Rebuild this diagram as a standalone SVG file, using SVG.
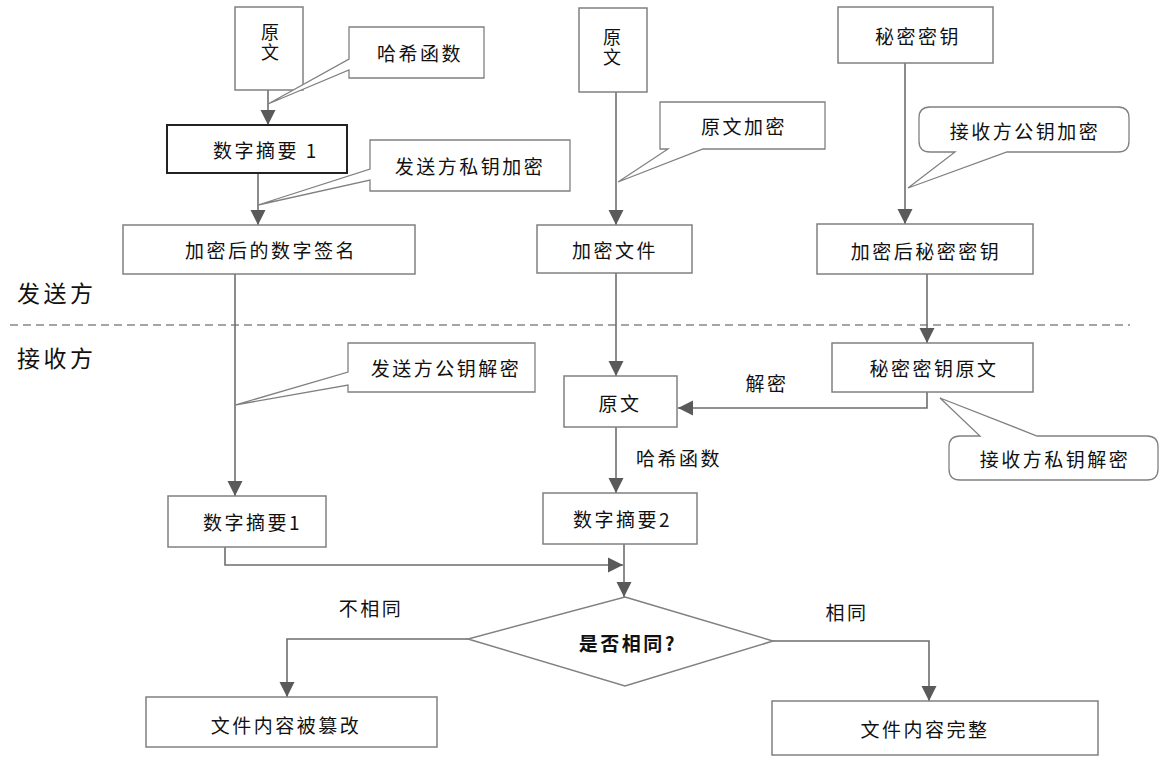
<svg xmlns="http://www.w3.org/2000/svg" width="1166" height="763" viewBox="0 0 1166 763">
<style>
  .box{fill:#fff;stroke:#808080;stroke-width:1.5}
  .bold{fill:#fff;stroke:#222;stroke-width:2}
  .call{fill:#fff;stroke:#808080;stroke-width:1.3}
  .t{font-family:"Noto Sans CJK SC","Noto Sans",sans-serif;font-size:19px;fill:#111;letter-spacing:2.5px;dominant-baseline:central}
  .m{text-anchor:middle}
  .v{font-size:18px;letter-spacing:2px;writing-mode:vertical-rl}
  .side{font-size:23px;letter-spacing:3.5px}
  .q{font-weight:bold}
  .c{fill:none;stroke:#6e6e6e;stroke-width:1.6}
  .dash{fill:none;stroke:#888;stroke-width:1.3;stroke-dasharray:8 5}
</style>
<defs>
  <marker id="ah" viewBox="0 -8 16 16" refX="15" refY="0" markerWidth="16" markerHeight="16" markerUnits="userSpaceOnUse" orient="auto">
    <path d="M0,-7.5 L15,0 L0,7.5 Z" fill="#5a5a5a"/>
  </marker>
</defs>
<rect width="1166" height="763" fill="#fff"/>

<path class="dash" d="M10,325 H1130"/>
<text class="t side" x="17" y="292">发送方</text>
<text class="t side" x="17" y="357">接收方</text>

<g id="connectors">
  <path class="c" d="M268,90 V125" marker-end="url(#ah)"/>
  <path class="c" d="M258,173 V225" marker-end="url(#ah)"/>
  <path class="c" d="M616,92 V225" marker-end="url(#ah)"/>
  <path class="c" d="M905,63 V224" marker-end="url(#ah)"/>
  <path class="c" d="M235,274 V496" marker-end="url(#ah)"/>
  <path class="c" d="M616,273 V376" marker-end="url(#ah)"/>
  <path class="c" d="M927,274 V343" marker-end="url(#ah)"/>
  <path class="c" d="M927,392 V408 H678" marker-end="url(#ah)"/>
  <path class="c" d="M616,427 V493" marker-end="url(#ah)"/>
  <path class="c" d="M225,547 V565 H623" marker-end="url(#ah)"/>
  <path class="c" d="M624,544 V597" marker-end="url(#ah)"/>
  <path class="c" d="M468,639 H287 V697" marker-end="url(#ah)"/>
  <path class="c" d="M773,641 H929 V701" marker-end="url(#ah)"/>
  <text class="t m" x="767" y="382">解密</text>
  <text class="t" x="636" y="457">哈希函数</text>
  <text class="t m" x="371" y="607">不相同</text>
  <text class="t m" x="847" y="611">相同</text>
</g>

<g id="n-yuanwen1">
  <rect class="box" x="235" y="7" width="68" height="83"/>
  <text class="t m v" x="270" y="43">原文</text>
</g>
<g id="call-hash">
  <path class="call" d="M349,27 H484 V78 H349 V70 L268,104 L349,59 Z"/>
  <text class="t m" x="420" y="52">哈希函数</text>
</g>
<g id="n-digest1a">
  <rect class="bold" x="167" y="125" width="180" height="48"/>
  <text class="t" x="213" y="149">数字摘要 1</text>
</g>
<g id="call-sendpriv">
  <path class="call" d="M370,140 H570 V191 H370 V180 L258,205 L370,169 Z"/>
  <text class="t m" x="470" y="165">发送方私钥加密</text>
</g>
<g id="n-signed">
  <rect class="box" x="123" y="225" width="292" height="49"/>
  <text class="t m" x="271" y="249">加密后的数字签名</text>
</g>

<g id="n-yuanwen2">
  <rect class="box" x="579" y="8" width="68" height="84"/>
  <text class="t m v" x="612" y="48">原文</text>
</g>
<g id="call-enc">
  <path class="call" d="M660,102 H825 V149 H703 L618,182 L668,149 H660 Z"/>
  <text class="t m" x="744" y="125">原文加密</text>
</g>
<g id="n-encfile">
  <rect class="box" x="537" y="225" width="155" height="48"/>
  <text class="t m" x="615" y="249">加密文件</text>
</g>

<g id="n-secret">
  <rect class="box" x="838" y="7" width="155" height="56"/>
  <text class="t m" x="918" y="35">秘密密钥</text>
</g>
<g id="call-recvpub">
  <path class="call" d="M930,107 H1118 Q1129,107 1129,118 V141 Q1129,152 1118,152 H1007 L908,188 L955,152 H930 Q919,152 919,141 V118 Q919,107 930,107 Z"/>
  <text class="t m" x="1025" y="130">接收方公钥加密</text>
</g>
<g id="n-encsecret">
  <rect class="box" x="817" y="224" width="216" height="50"/>
  <text class="t m" x="926" y="250">加密后秘密密钥</text>
</g>

<g id="call-sendpub">
  <path class="call" d="M348,343 H535 V392 H348 V385 L235,405 L348,372 Z"/>
  <text class="t m" x="446" y="367">发送方公钥解密</text>
</g>
<g id="n-yuanwen3">
  <rect class="box" x="564" y="376" width="113" height="51"/>
  <text class="t m" x="620" y="402">原文</text>
</g>
<g id="n-secretplain">
  <rect class="box" x="832" y="343" width="201" height="49"/>
  <text class="t m" x="934" y="367">秘密密钥原文</text>
</g>
<g id="call-recvpriv">
  <path class="call" d="M960,436 H980 L940,398 L1037,436 H1147 Q1158,436 1158,447 V469 Q1158,480 1147,480 H960 Q949,480 949,469 V447 Q949,436 960,436 Z"/>
  <text class="t m" x="1055" y="458">接收方私钥解密</text>
</g>

<g id="n-digest1b">
  <rect class="box" x="168" y="496" width="158" height="51"/>
  <text class="t" x="203" y="521">数字摘要1</text>
</g>
<g id="n-digest2">
  <rect class="box" x="543" y="493" width="154" height="51"/>
  <text class="t" x="573" y="518">数字摘要2</text>
</g>
<g id="n-same">
  <path class="box" d="M625,597 L773,641 L625,686 L468,639 Z"/>
  <text class="t m q" x="628" y="642">是否相同?</text>
</g>
<g id="n-tampered">
  <rect class="box" x="146" y="697" width="291" height="50"/>
  <text class="t m" x="286" y="724">文件内容被篡改</text>
</g>
<g id="n-intact">
  <rect class="box" x="772" y="701" width="326" height="54"/>
  <text class="t m" x="925" y="728">文件内容完整</text>
</g>
</svg>
